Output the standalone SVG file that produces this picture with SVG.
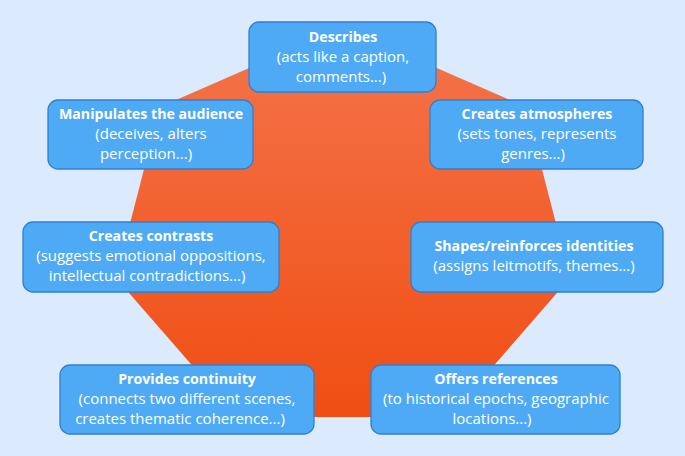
<svg xmlns="http://www.w3.org/2000/svg" width="685" height="456" viewBox="0 0 685 456">
<style>
.b{fill:#4faaf6;stroke:#2f80cf;stroke-width:1.3}
text{font-family:"Open Sans","Liberation Sans",sans-serif;fill:#fff;font-size:15px;text-anchor:middle}
.t{font-weight:bold;font-size:14.2px}
</style>
<defs>
<linearGradient id="g" x1="0" y1="0" x2="0" y2="1">
<stop offset="0" stop-color="#f4744c"/><stop offset="1" stop-color="#f04e12"/>
</linearGradient>
</defs>
<rect width="685" height="456" fill="#dbeafc"/>
<polygon points="343,27 526,107 570,278 449,417 237,417 116,278 160,107" fill="url(#g)"/>
<g id="describes"><rect class="b" x="249" y="22" width="187" height="70" rx="10"/>
<text x="343" y="42" class="t">Describes</text><text x="343" y="62">(acts like a caption,</text><text x="341" y="82">comments...)</text></g>
<g id="manipulates"><rect class="b" x="48" y="100" width="205" height="69" rx="10"/>
<text x="151" y="119" class="t">Manipulates the audience</text><text x="151" y="139">(deceives, alters</text><text x="146" y="159">perception...)</text></g>
<g id="atmospheres"><rect class="b" x="430" y="100" width="213" height="69" rx="10"/>
<text x="537" y="119" class="t">Creates atmospheres</text><text x="537" y="139">(sets tones, represents</text><text x="533" y="159">genres...)</text></g>
<g id="contrasts"><rect class="b" x="23" y="222" width="256" height="70" rx="10"/>
<text x="151" y="241" class="t">Creates contrasts</text><text x="151" y="261">(suggests emotional oppositions,</text><text x="147" y="281">intellectual contradictions...)</text></g>
<g id="identities"><rect class="b" x="411" y="222" width="252" height="70" rx="10"/>
<text x="534" y="251" class="t">Shapes/reinforces identities</text><text x="534" y="271">(assigns leitmotifs, themes...)</text></g>
<g id="continuity"><rect class="b" x="60" y="365" width="254" height="69" rx="10"/>
<text x="187" y="384" class="t">Provides continuity</text><text x="187" y="404">(connects two different scenes,</text><text x="180" y="424">creates thematic coherence...)</text></g>
<g id="references"><rect class="b" x="371" y="365" width="249" height="69" rx="10"/>
<text x="496" y="384" class="t">Offers references</text><text x="496" y="404">(to historical epochs, geographic</text><text x="492" y="424">locations...)</text></g>
<g id="connectors"/>
</svg>
